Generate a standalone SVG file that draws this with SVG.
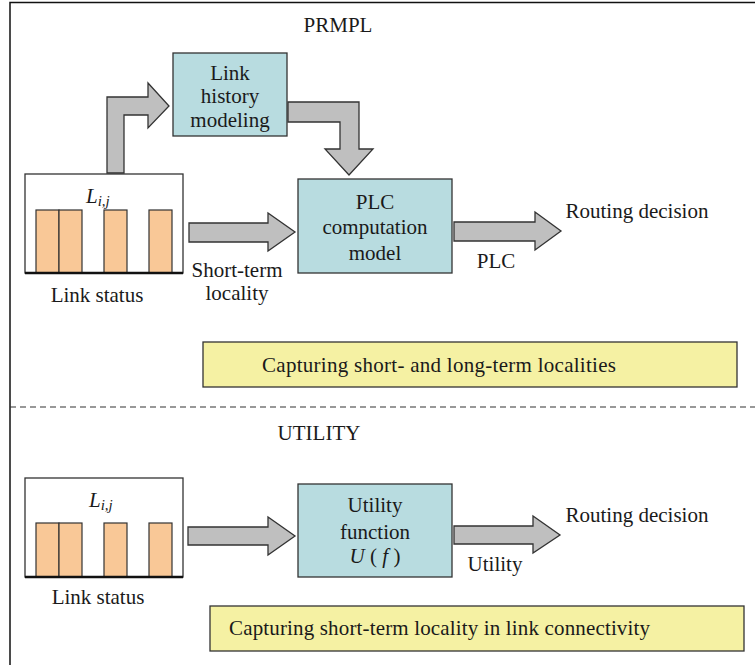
<svg xmlns="http://www.w3.org/2000/svg" width="755" height="665" viewBox="0 0 755 665">
<style>
text{font-family:"Liberation Serif","Times New Roman",serif;font-size:21px;fill:#1a1a1a}
.c{text-anchor:middle}
.it{font-style:italic}
.proc{fill:#b8dce0;stroke:#333;stroke-width:1.3}
.note{fill:#f5f1a3;stroke:#333;stroke-width:1.3}
.bar{fill:#f9c897;stroke:#333;stroke-width:1.2}
.arr{fill:#bfbfbf;stroke:#333;stroke-width:1.3;stroke-linejoin:miter}
.frame{fill:none;stroke:#111;stroke-width:1.5}
</style>
<rect width="755" height="665" fill="#fff"/>
<g id="frame">
<path class="frame" d="M10,665 V2.5 H755"/>
<line x1="10" y1="407" x2="755" y2="407" stroke="#333" stroke-width="1.2" stroke-dasharray="6,4"/>
<text x="338" y="32" class="c" font-size="20">PRMPL</text>
<text x="319" y="440" class="c" font-size="20">UTILITY</text>
</g>
<g id="status1">
<rect x="25" y="174" width="158" height="99" fill="#fff" stroke="#333" stroke-width="1.3"/>
<rect class="bar" x="36" y="210" width="23" height="63"/>
<rect class="bar" x="59" y="210" width="23" height="63"/>
<rect class="bar" x="104" y="210" width="23" height="63"/>
<rect class="bar" x="149" y="210" width="23" height="63"/>
<line x1="25" y1="273" x2="183" y2="273" stroke="#111" stroke-width="2.5"/>
<text x="86" y="203" class="it" font-size="22">L<tspan font-size="15" dy="3">i,j</tspan></text>
<text x="97" y="302" class="c">Link status</text>
</g>
<g id="history">
<rect class="proc" x="173" y="53" width="114" height="83"/>
<text x="230" y="80" class="c">Link</text>
<text x="230" y="103" class="c">history</text>
<text x="230" y="127" class="c">modeling</text>
</g>
<g id="plc">
<rect class="proc" x="298" y="179" width="154" height="94"/>
<text x="375" y="209" class="c">PLC</text>
<text x="375" y="234" class="c">computation</text>
<text x="375" y="260" class="c">model</text>
</g>
<g id="routing1">
<text x="637" y="218" class="c">Routing decision</text>
</g>
<g id="note1">
<rect class="note" x="203" y="342" width="534" height="45"/>
<text x="262" y="372" textLength="354">Capturing short- and long-term localities</text>
</g>
<g id="status2">
<rect x="25" y="478" width="158" height="99" fill="#fff" stroke="#333" stroke-width="1.3"/>
<rect class="bar" x="36" y="523" width="23" height="54"/>
<rect class="bar" x="59" y="523" width="23" height="54"/>
<rect class="bar" x="104" y="523" width="23" height="54"/>
<rect class="bar" x="149" y="523" width="23" height="54"/>
<line x1="25" y1="577" x2="183" y2="577" stroke="#111" stroke-width="2.5"/>
<text x="89" y="507" class="it" font-size="22">L<tspan font-size="15" dy="3">i,j</tspan></text>
<text x="98" y="604" class="c">Link status</text>
</g>
<g id="utility">
<rect class="proc" x="298" y="484" width="154" height="93"/>
<text x="375" y="512" class="c">Utility</text>
<text x="375" y="539" class="c">function</text>
<text x="375" y="563" class="c"><tspan class="it">U</tspan> ( <tspan class="it">f</tspan> )</text>
</g>
<g id="routing2">
<text x="637" y="522" class="c">Routing decision</text>
</g>
<g id="note2">
<rect class="note" x="210" y="606" width="534" height="45"/>
<text x="229" y="635" textLength="421">Capturing short-term locality in link connectivity</text>
</g>
<g id="connectors">
<path class="arr" d="M107,173 V97 H148 V83 L169,106 L148,128 V115 H124 V173 Z"/>
<path class="arr" d="M288,102 H359 V149 H373 L349,175 L325,149 H340 V122 H288 Z"/>
<path class="arr" d="M189,223 H268 V213 L295,232 L268,251 V242 H189 Z"/>
<path class="arr" d="M454,222 H535 V212 L561,231 L535,250 V241 H454 Z"/>
<path class="arr" d="M188,527 H268 V517 L295,536 L268,555 V545 H188 Z"/>
<path class="arr" d="M454,526 H533 V516 L560,535 L533,553 V544 H454 Z"/>
<text x="237" y="277" class="c">Short-term</text>
<text x="237" y="300" class="c">locality</text>
<text x="496" y="268" class="c">PLC</text>
<text x="495" y="571" class="c">Utility</text>
</g>
</svg>
